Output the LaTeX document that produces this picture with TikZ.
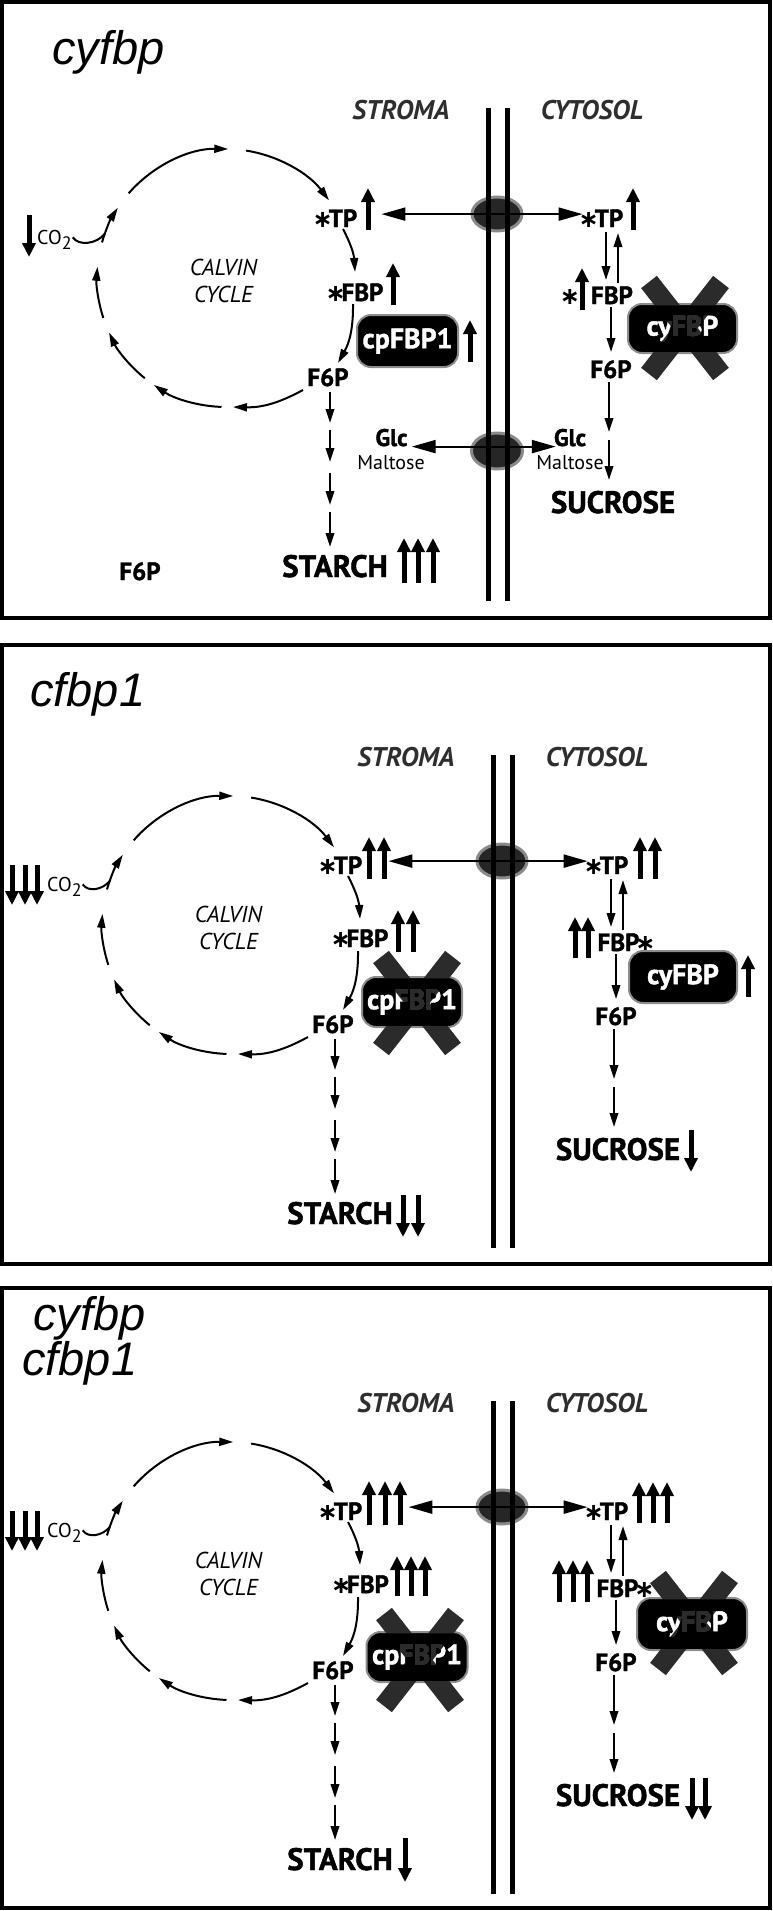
\documentclass[tikz,border=0pt]{standalone}
\usepackage{fontspec}
\setmainfont{PT Sans}[BoldFeatures={FakeBold=1.4}]
\newfontfamily\titlefont{Liberation Sans}
\newfontfamily\symfont{DejaVu Sans}
\usetikzlibrary{arrows.meta,shapes.geometric,calc}
\definecolor{regiongray}{HTML}{2E2E2E}
\definecolor{portfill}{HTML}{262626}
\definecolor{portedge}{HTML}{8A8A8A}
\definecolor{boxgray}{HTML}{8C8C8C}
\definecolor{crossgray}{HTML}{2B2B2B}
\newcommand\astk{\makebox[12pt][c]{\symfont\fontsize{24}{24}\selectfont ∗}}
\tikzset{
 lab/.style={font=\bfseries\fontsize{25}{28}\selectfont, inner sep=0pt, anchor=base},
 bigl/.style={font=\bfseries\fontsize{31}{33}\selectfont, inner sep=0pt, anchor=base},
 glc/.style={font=\bfseries\fontsize{24}{26}\selectfont, inner sep=0pt, anchor=base},
 malt/.style={font=\fontsize{20}{22}\selectfont, inner sep=0pt, anchor=base},
 region/.style={font=\bfseries\itshape\fontsize{27}{29}\selectfont, text=regiongray, inner sep=0pt, anchor=base},
 calv/.style={font=\itshape\fontsize{23}{26}\selectfont, inner sep=0pt, anchor=base},
 enz/.style={fill=black, draw=boxgray, line width=2pt, rounded corners=14pt, inner sep=0pt, text=white, font=\bfseries\fontsize{28}{30}\selectfont},
 flow/.style={line width=2pt, -{Triangle[length=14pt,width=8.5pt]}},
 cyc/.style={line width=2pt, -{Triangle[length=14pt,width=8pt]}},
 trans/.style={line width=2.2pt, {Triangle[length=24pt,width=13pt]}-{Triangle[length=24pt,width=13pt]}},
 updown/.style={line width=5pt, -{Triangle[length=14pt,width=13pt]}},
 memb/.style={line width=5pt},
 porter/.style={ellipse, fill=portfill, draw=portedge, line width=3pt, inner sep=0pt},
 xband/.style={line width=20pt, draw=crossgray},
 panelframe/.style={line width=4pt},
 ttl/.style={font=\titlefont\itshape\fontsize{47}{50}\selectfont, inner sep=0pt, anchor=base west},
}
% indicator arrows: #1 list of x, #2 start y, #3 tip y
\newcommand\indic[3]{\foreach \xx in {#1}{\draw[updown] (\xx,-#2) -- (\xx,-#3);}}
% cross mark centred at (#1,-#2)
\newcommand\xmark[2]{%
 \begin{scope}[blend mode=darken]
 \draw[xband] (#1-36,-#2+46) -- (#1+36,-#2-46);
 \draw[xband] (#1+36,-#2+46) -- (#1-36,-#2-46);
 \end{scope}}
% common content of every panel; #1 = name prefix, #2 = gap left of the TP transport arrow
\newcommand\panelbase[2]{%
 \node[region] (#1stroma) at (401,-119.5) {STROMA};
 \node[region] (#1cyto) at (592,-119.5) {CYTOSOL};
 \node[porter, minimum width=50pt, minimum height=34pt] (#1port) at (497,-214) {};
 \draw[memb] (488,-108) -- (488,-601);
 \draw[memb] (507,-108) -- (507,-601);
 \node[lab] (#1stp) at (337,-227) {\astk TP};
 \node[lab] (#1ctp) at (603,-227) {\astk TP};
 \draw[trans] ([xshift=#2,yshift=4pt]#1stp.east) -- ([yshift=4pt]#1ctp.west);
 \node[calv] (#1calvin) at (223.5,-275) {CALVIN};
 \node[calv] (#1cycle) at (223.5,-302) {CYCLE};
 \coordinate (#1C) at (226,-278);
 \draw[cyc] ($(#1C)+(139:129)$) arc[start angle=139,end angle=89,radius=129];
 \draw[cyc] ($(#1C)+(81:129)$) arc[start angle=81,end angle=37,radius=129];
 \draw[cyc] (343,-229) to[bend left=12] (355,-272);
 \draw[cyc] (353,-304) to[bend left=15] (338,-363);
 \draw[cyc] (303,-390) to[bend left=15] (233,-407);
 \draw[cyc] ($(#1C)+(268:129)$) arc[start angle=268,end angle=236,radius=129];
 \draw[cyc] ($(#1C)+(231:129)$) arc[start angle=231,end angle=205,radius=129];
 \draw[cyc] ($(#1C)+(198:129)$) arc[start angle=198,end angle=175,radius=129];
 \draw[cyc] ($(#1C)+(164:129)$) arc[start angle=164,end angle=147,radius=129];
 \node[lab] (#1sf6p) at (328,-386) {F6P};
 \draw[flow] (330,-392) -- (330,-423);
 \draw[flow] (330,-430) -- (330,-462);
 \draw[flow] (330,-473) -- (330,-505);
 \draw[flow] (330,-512) -- (330,-547);
 \node[bigl] (#1starch) at (335,-577) {STARCH};
 \node[lab] (#1cf6p) at (611,-378) {F6P};
 \node[bigl] (#1suc) at (613,-513) {SUCROSE};
 \draw[flow] (606,-232) -- (606,-280);
 \draw[flow] (618,-283) -- (618,-233);
 \draw[flow] (611,-307) -- (611,-352);
 \draw[flow] (609,-382) -- (609,-432);
 \draw[flow] (609,-440) -- (609,-480);
}
\begin{document}
\begin{tikzpicture}[x=1pt,y=1pt]
\useasboundingbox (0,0) rectangle (772,-1911);
\fill[white] (0,0) rectangle (772,-1911);
\draw[panelframe] (2,-2) rectangle (769.5,-618);
\draw[panelframe] (2,-645) rectangle (769.5,-1264);
\draw[panelframe] (2,-1288) rectangle (769.5,-1908);
\node[ttl] (t1) at (52,-65) {cyfbp};
\node[ttl] (t2) at (30,-706) {cfbp1};
\node[ttl] (t3a) at (33,-1330) {cyfbp};
\node[ttl] (t3b) at (22,-1375) {cfbp1};

% ---------------- panel 1 ----------------
\begin{scope}
 \panelbase{p1}{24pt}
 \node[lab] (p1sfbp) at (356.5,-301) {\astk FBP};
 \node[lab] (p1cfbp) at (612,-304) {FBP};
 \node[lab] (p1cast) at (570,-304) {\astk};
 \indic{368}{230}{188}
 \indic{633}{230}{188}
 \indic{393}{305}{263}
 \indic{470}{362}{320}
 \indic{582}{310}{268}
 \indic{404,418,433}{583}{538}
 \indic{29}{215}{257}
 \node[enz, minimum width=101pt, minimum height=52pt] (p1cp) at (407.5,-341) {cpFBP1};
 \node[enz, minimum width=109pt, minimum height=49pt] (p1cy) at (682.5,-328.5) {cyFBP};
 \xmark{685}{328}
 \node[porter, minimum width=51pt, minimum height=36pt] (p1port2) at (497,-451) {};
 \draw[memb] (488,-425) -- (488,-478);
 \draw[memb] (507,-425) -- (507,-478);
 \node[glc] (p1sglc) at (391.5,-446) {Glc};
 \node[malt] (p1smal) at (391,-469) {Maltose};
 \node[glc] (p1cglc) at (570,-446) {Glc};
 \node[malt] (p1cmal) at (570,-469) {Maltose};
 \draw[trans] ([xshift=4pt,yshift=-9pt]p1sglc.east) -- ([xshift=2pt,yshift=-9pt]p1cglc.west);
 \node[lab] (p1stray) at (140,-580) {F6P};
 \node[malt, anchor=base west] (p1co2) at (37,-244) {CO\raisebox{-0.25em}{\fontsize{18}{18}\selectfont 2}};
 \draw[line width=2pt] ([xshift=1pt,yshift=2pt]p1co2.east) .. controls +(6,-9) and +(-8,-10) .. ($(p1C)+(160:129)$);
\end{scope}

% ---------------- panel 2 ----------------
\begin{scope}[shift={(5,-647)}]
 \panelbase{p2}{26pt}
 \node[lab] (p2sfbp) at (356.5,-300) {\astk FBP};
 \node[lab] (p2cfbp) at (619.5,-304) {FBP\astk};
 \indic{364,379}{232}{190}
 \indic{635,650}{232}{190}
 \indic{393,408}{305}{263}
 \indic{570,583}{311}{270}
 \indic{743}{350}{308}
 \indic{686}{483}{525}
 \indic{398,413}{548}{590}
 \indic{7,20,32}{218}{258}
 \node[enz, minimum width=100pt, minimum height=50pt] (p2cp) at (407,-355) {cpFBP1};
 \xmark{412}{356}
 \node[enz, minimum width=108pt, minimum height=52pt] (p2cy) at (678,-330) {cyFBP};
 \node[malt, anchor=base west] (p2co2) at (42,-244) {CO\raisebox{-0.25em}{\fontsize{18}{18}\selectfont 2}};
 \draw[line width=2pt] ([xshift=1pt,yshift=2pt]p2co2.east) .. controls +(5,-8) and +(-7,-9) .. ($(p2C)+(160:129)$);
\end{scope}

% ---------------- panel 3 ----------------
\begin{scope}[shift={(5,-1293)}]
 \panelbase{p3}{46pt}
 \node[lab] (p3sfbp) at (357,-300) {\astk FBP};
 \node[lab] (p3cfbp) at (618.5,-304) {FBP\astk};
 \indic{364,380,395}{232}{188}
 \indic{634,648,662}{230}{189}
 \indic{392,406,420}{303}{263}
 \indic{554,568,582}{309}{267}
 \indic{687,700}{485}{527}
 \indic{400}{545}{589}
 \indic{7,20,32}{218}{258}
 \node[enz, minimum width=101pt, minimum height=50pt] (p3cp) at (412,-364) {cpFBP1};
 \xmark{415}{367}
 \node[enz, minimum width=110pt, minimum height=52pt] (p3cy) at (687,-331) {cyFBP};
 \xmark{689}{330}
 \node[malt, anchor=base west] (p3co2) at (42,-244) {CO\raisebox{-0.25em}{\fontsize{18}{18}\selectfont 2}};
 \draw[line width=2pt] ([xshift=1pt,yshift=2pt]p3co2.east) .. controls +(5,-8) and +(-7,-9) .. ($(p3C)+(160:129)$);
\end{scope}
\end{tikzpicture}
\end{document}
